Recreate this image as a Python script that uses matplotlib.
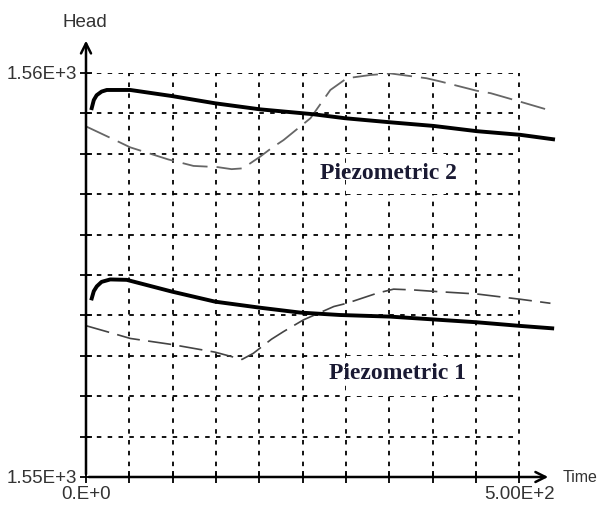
import matplotlib
matplotlib.use('Agg')
import matplotlib.pyplot as plt
from matplotlib.patches import Rectangle

# time axis (s) and head values
p2_solid_t = [6.6, 9, 12.3, 18, 24, 51, 99, 149, 201, 262, 299, 351, 401, 451, 501, 539]
p2_solid_h = [1559.13, 1559.33, 1559.45, 1559.54, 1559.58, 1559.58, 1559.43, 1559.25,
              1559.10, 1558.98, 1558.88, 1558.78, 1558.69, 1558.56, 1558.47, 1558.36]

p2_dash_t = [0.8, 33.5, 51, 95, 124, 152, 168, 181, 201, 214, 228, 259, 282, 301,
             328, 351, 393, 409, 451, 467, 501, 536]
p2_dash_h = [1558.67, 1558.34, 1558.16, 1557.86, 1557.70, 1557.67, 1557.62, 1557.64,
             1557.93, 1558.14, 1558.34, 1558.88, 1559.58, 1559.87, 1559.95, 1559.99,
             1559.87, 1559.79, 1559.56, 1559.50, 1559.29, 1559.07]

p1_solid_t = [6.6, 9, 12.5, 18, 28, 47, 99, 149, 201, 247, 293, 351, 401, 451, 501, 538]
p1_solid_h = [1554.42, 1554.60, 1554.72, 1554.83, 1554.89, 1554.88, 1554.59, 1554.34,
              1554.19, 1554.07, 1554.01, 1553.97, 1553.90, 1553.83, 1553.74, 1553.68]

p1_dash_t = [0.8, 33.5, 51, 99, 149, 168, 180, 193, 214, 228, 251, 286, 301, 336,
             355, 378, 405, 451, 501, 536]
p1_dash_h = [1553.74, 1553.54, 1553.43, 1553.28, 1553.09, 1552.98, 1552.91, 1553.06,
             1553.41, 1553.60, 1553.89, 1554.22, 1554.30, 1554.55, 1554.65, 1554.63,
             1554.59, 1554.53, 1554.40, 1554.30]

x_ticks = list(range(0, 501, 50))
y_ticks = list(range(1550, 1561))
x_labels = ['0.E+0'] + [''] * 9 + ['5.00E+2']
y_labels = ['1.55E+3'] + [''] * 9 + ['1.56E+3']

sans = 'Liberation Sans'

fig = plt.figure(figsize=(5.98, 5.08), dpi=100)
ax = fig.add_axes([86 / 598, 31 / 508, 474 / 598, 404 / 508])
ax.set_xlim(0, 547)
ax.set_ylim(1550, 1560)
for s in ax.spines.values():
    s.set_visible(False)

# dotted grid only over the 0..500 window
ax.hlines(y_ticks[1:], 0, 500, colors='black', linestyles=(0, (2.5, 3.5)), lw=1.3, zorder=1)
ax.vlines(x_ticks[1:], 1550, 1560, colors='black', linestyles=(0, (2.5, 3.5)), lw=1.3, zorder=1)

# white patches behind the labels hide the grid there
ax.add_patch(Rectangle((300, 1557), 115, 1, facecolor='white', edgecolor='none', zorder=2))
ax.add_patch(Rectangle((300, 1552), 115, 1, facecolor='white', edgecolor='none', zorder=2))

ax.plot(p2_dash_t, p2_dash_h, color='#666666', lw=1.3, dashes=(14, 5), zorder=3)
ax.plot(p1_dash_t, p1_dash_h, color='#444444', lw=1.2, dashes=(14, 5), zorder=3)
ax.plot(p2_solid_t, p2_solid_h, color='black', lw=2.8, zorder=4)
ax.plot(p1_solid_t, p1_solid_h, color='black', lw=2.8, zorder=4)

ax.set_xticks(x_ticks)
ax.set_yticks(y_ticks)
ax.set_xticklabels(x_labels)
ax.set_yticklabels(y_labels)
ax.tick_params(direction='inout', length=9, width=1.3, color='black', labelsize=13.5, pad=2)
for lab in ax.get_xticklabels() + ax.get_yticklabels():
    lab.set_color('#333333')
    lab.set_family(sans)

# axis arrows
ax.annotate('', xy=(0.981, 0), xytext=(0, 0), xycoords='axes fraction',
            arrowprops=dict(arrowstyle='->', lw=1.8, color='black', mutation_scale=18))
ax.annotate('', xy=(0, 1.087), xytext=(0, 0), xycoords='axes fraction',
            arrowprops=dict(arrowstyle='->', lw=1.8, color='black', mutation_scale=18))
ax.text(1.005, 0, 'Time', transform=ax.transAxes, fontsize=11.5, va='center', ha='left',
        color='#333333', family=sans)
ax.text(-0.05, 1.105, 'Head', transform=ax.transAxes, fontsize=13.5, va='bottom', ha='left',
        color='#333333', family=sans)

ax.text(270, 1557.5, 'Piezometric 2', family='Liberation Serif', fontweight='bold',
        fontsize=17, color='#1a1a33', va='center', ha='left', zorder=5)
ax.text(280, 1552.55, 'Piezometric 1', family='Liberation Serif', fontweight='bold',
        fontsize=17, color='#1a1a33', va='center', ha='left', zorder=5)

plt.savefig('out.png', dpi=100)
